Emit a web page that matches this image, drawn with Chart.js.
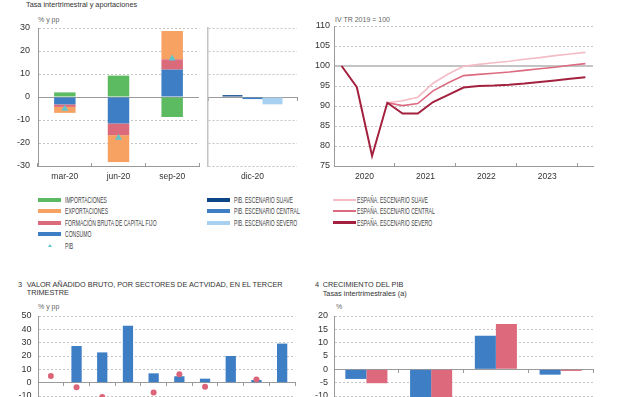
<!DOCTYPE html>
<html lang="es">
<head>
<meta charset="utf-8">
<title>PIB - escenarios</title>
<script src="https://cdn.jsdelivr.net/npm/chart.js@4.4.1/dist/chart.umd.min.js"></script>
<style>
    html, body { margin: 0; padding: 0; background: #fff; }
    body { position: relative; width: 643px; height: 397px; overflow: hidden; font-family: "Liberation Sans", Arial, sans-serif; color: #333; }
    canvas { position: absolute; }
    .t { position: absolute; white-space: nowrap; line-height: 1; }
    .title { font-size: 7.3px; color: #333; }
    .unit { font-size: 7px; color: #666; }
    .sw { position: absolute; }
    .tri { position: absolute; width: 0; height: 0; border-left: 2px solid transparent; border-right: 2px solid transparent; border-bottom: 3.5px solid #5ec6cc; }
    .lt { position: absolute; white-space: nowrap; font-size: 8.3px; line-height: 1; color: #444; transform: scaleX(0.61); transform-origin: 0 50%; }
</style>
</head>
<body>

<div class="t title" style="left:26px;top:1px">Tasa intertrimestral y aportaciones</div>
<div class="t unit" style="left:38px;top:15.5px">% y pp</div>
<div class="t unit" style="left:335px;top:15.5px">IV TR 2019 = 100</div>

<div class="t title" style="left:18px;top:280.5px">3</div>
<div class="t title" style="left:26.7px;top:280.5px">VALOR AÑADIDO BRUTO, POR SECTORES DE ACTVIDAD, EN EL TERCER</div>
<div class="t title" style="left:26.7px;top:289px">TRIMESTRE</div>
<div class="t unit" style="left:38px;top:303px">% y pp</div>

<div class="t title" style="left:315px;top:280.5px">4</div>
<div class="t title" style="left:322.7px;top:280.5px">CRECIMIENTO DEL PIB</div>
<div class="t title" style="left:322.7px;top:289.5px">Tasas intertrimestrales (a)</div>
<div class="t unit" style="left:336px;top:303px">%</div>

<div id="legend"></div>

<canvas id="c1a" width="205" height="190" style="left:0;top:0"></canvas>
<canvas id="c1b" width="105" height="190" style="left:200px;top:0"></canvas>
<canvas id="c2" width="343" height="190" style="left:300px;top:0"></canvas>
<canvas id="c3" width="300" height="150" style="left:0;top:300px"></canvas>
<canvas id="c4" width="343" height="150" style="left:300px;top:300px"></canvas>

<script>
/* ---------- data ---------- */

// 1 - aportaciones al crecimiento intertrimestral
const trimestres1 = ['mar-20', 'jun-20', 'sep-20'];
const consumo = [-3.2, -11.5, 11.9];
const fbcf = [-1.1, -5.1, 4.5];
const exportaciones = [-2.6, -11.7, 12.3];
const importaciones = [2.0, 9.3, -8.7];
const pib = [-5.1, -17.7, 16.7];

// 1b - PIB dic-20 por escenario
const trimestre1b = ['dic-20'];
const pibSuave = [0.8];
const pibCentral = [-0.9];
const pibSevero = [-3.2];

// 2 - nivel del PIB (IV TR 2019 = 100)
const trimestres2 = [
    'IV TR 2019', 'I TR 2020', 'II TR 2020', 'III TR 2020', 'IV TR 2020',
    'I TR 2021', 'II TR 2021', 'III TR 2021', 'IV TR 2021',
    'I TR 2022', 'II TR 2022', 'III TR 2022', 'IV TR 2022',
    'I TR 2023', 'II TR 2023', 'III TR 2023', 'IV TR 2023'
];
const anios2 = ['2020', '2021', '2022', '2023'];
const espSevero = [100, 94.7, 77.5, 90.8, 88.1, 88.1, 91.0, 92.8, 94.6, 95.0, 95.1, 95.3, 95.6, 96.0, 96.4, 96.8, 97.2];
const espCentral = [null, null, null, 90.8, 90.1, 90.6, 93.8, 95.8, 97.6, 97.9, 98.2, 98.5, 98.9, 99.3, 99.7, 100.2, 100.6];
const espSuave = [null, null, null, 90.8, 91.3, 92.2, 95.7, 98.0, 99.9, 100.4, 100.8, 101.2, 101.7, 102.1, 102.6, 103.0, 103.4];

// 3 - VAB por sectores, tercer trimestre
const sectores = ['S1', 'S2', 'S3', 'S4', 'S5', 'S6', 'S7', 'S8', 'S9', 'S10'];
const vabBarras = [0, 27.5, 22.7, 42.7, 7.0, 4.8, 3.0, 20.0, 2.0, 29.3];
const vabPuntos = [5.0, -3.5, -10.7, -15, -7.3, 6.3, -3.0, -13, 2.3, -18];

// 4 - crecimiento del PIB
const trimestres4 = ['I TR 2020', 'II TR 2020', 'III TR 2020', 'IV TR 2020'];
const crecAzul = [-3.6, -11.8, 12.6, -2.0];
const crecRojo = [-5.2, -17.8, 17.0, -0.6];

/* ---------- style ---------- */

const COL = {
    imp: '#5cbb61', exp: '#f7a263', fbcf: '#db6a7b', consumo: '#3e7ec5', pib: '#5ec6cc',
    suave: '#0c4688', central: '#3e7ec5', severo: '#a8d1f1',
    espSuave: '#f3bcc6', espCentral: '#dc6a80', espSevero: '#a3213f'
};
const GRID = '#c4c4c4', AXIS = '#9a9a9a';

Chart.defaults.font.family = '"Liberation Sans", Arial, sans-serif';
Chart.defaults.color = '#333';
Chart.defaults.animation = false;
Chart.defaults.events = [];
Chart.defaults.plugins.legend.display = false;
Chart.defaults.plugins.tooltip.enabled = false;

const dashedExcept = v => c => (c.type === 'tick' && c.tick.value !== v) ? [2, 2] : [];
const fixW = w => s => { s.width = w; };
const fixH = h => s => { s.height = h; };
const zeroAxis = tl => ({
    position: { y: 0 }, offset: true,
    grid: { offset: true, drawOnChartArea: false, tickLength: tl, color: AXIS },
    border: { color: AXIS }, ticks: { display: false }
});

/* ---------- legend ---------- */

const legendCols = [
    { sx: 37.5, tx: 64.5, items: [
        { label: 'IMPORTACIONES', color: COL.imp, h: 4 },
        { label: 'EXPORTACIONES', color: COL.exp, h: 4 },
        { label: 'FORMACIÓN BRUTA DE CAPITAL FIJO', color: COL.fbcf, h: 4 },
        { label: 'CONSUMO', color: COL.consumo, h: 4 },
        { label: 'PIB', color: COL.pib, tri: true }
    ] },
    { sx: 207, tx: 234, items: [
        { label: 'PIB. ESCENARIO SUAVE', color: COL.suave, h: 4 },
        { label: 'PIB. ESCENARIO CENTRAL', color: COL.central, h: 4 },
        { label: 'PIB. ESCENARIO SEVERO', color: COL.severo, h: 4 }
    ] },
    { sx: 333, tx: 357, items: [
        { label: 'ESPAÑA. ESCENARIO SUAVE', color: COL.espSuave, h: 2 },
        { label: 'ESPAÑA. ESCENARIO CENTRAL', color: COL.espCentral, h: 2 },
        { label: 'ESPAÑA. ESCENARIO SEVERO', color: COL.espSevero, h: 2.5 }
    ] }
];
const legendRows = [199.5, 211, 222.5, 234, 245.7];

let lg = '';
legendCols.forEach(col => {
    col.items.forEach((it, r) => {
        const y = legendRows[r];
        if (it.tri) {
            lg += `<div class="tri" style="left:${col.sx + 10}px;top:${y - 2}px"></div>`;
        } else {
            lg += `<div class="sw" style="left:${col.sx}px;top:${y - it.h / 2}px;width:23px;height:${it.h}px;background:${it.color}"></div>`;
        }
        lg += `<div class="lt" style="left:${col.tx}px;top:${y - 4}px">${it.label}</div>`;
    });
});
document.getElementById('legend').innerHTML = lg;

/* ---------- 1: aportaciones ---------- */

new Chart(document.getElementById('c1a'), {
    type: 'bar',
    data: {
        labels: trimestres1,
        datasets: [
            { type: 'line', label: 'PIB', data: pib, stack: 'pib', showLine: false, pointStyle: 'triangle',
              pointRadius: 4, pointBackgroundColor: COL.pib, pointBorderColor: COL.pib, pointBorderWidth: 0 },
            { label: 'Consumo', data: consumo, backgroundColor: COL.consumo, stack: 'a' },
            { label: 'FBCF', data: fbcf, backgroundColor: COL.fbcf, stack: 'a' },
            { label: 'Exportaciones', data: exportaciones, backgroundColor: COL.exp, stack: 'a' },
            { label: 'Importaciones', data: importaciones, backgroundColor: COL.imp, stack: 'a' }
        ]
    },
    options: {
        responsive: false,
        layout: { padding: { top: 28, right: 6 } },
        datasets: { bar: { categoryPercentage: 0.4, barPercentage: 1 } },
        scales: {
            x: { stacked: true, offset: true,
                 grid: { offset: true, drawOnChartArea: false, tickLength: -3, color: AXIS },
                 border: { color: AXIS }, ticks: { padding: 9, font: { size: 8.5 } }, afterFit: fixH(24) },
            y: { stacked: true, min: -30, max: 30,
                 ticks: { stepSize: 10, autoSkip: false, padding: 8, font: { size: 9 } },
                 grid: { drawTicks: false, color: c => (c.tick && c.tick.value === 0) ? AXIS : GRID },
                 border: { color: AXIS, dash: dashedExcept(0) }, afterFit: fixW(38) }
        }
    }
});

new Chart(document.getElementById('c1b'), {
    type: 'bar',
    data: {
        labels: trimestre1b,
        datasets: [
            { label: 'PIB. Escenario suave', data: pibSuave, backgroundColor: COL.suave },
            { label: 'PIB. Escenario central', data: pibCentral, backgroundColor: COL.central },
            { label: 'PIB. Escenario severo', data: pibSevero, backgroundColor: COL.severo }
        ]
    },
    options: {
        responsive: false,
        layout: { padding: { top: 28, right: 8 } },
        datasets: { bar: { categoryPercentage: 0.674, barPercentage: 1 } },
        scales: {
            x: { offset: true, grid: { display: false, drawTicks: false }, border: { display: false },
                 ticks: { padding: 6, font: { size: 8.5 } }, afterFit: fixH(24) },
            x0: zeroAxis(3),
            y: { min: -30, max: 30, ticks: { display: false, stepSize: 10, autoSkip: false },
                 grid: { drawTicks: false, color: GRID },
                 border: { color: '#c4c4c4', width: 1.5, dash: dashedExcept(null) }, afterFit: fixW(8) }
        }
    }
});

/* ---------- 2: nivel del PIB ---------- */

const centrosAnio = anios2.map((a, j) => 1.5 + 4 * j);
const limitesAnio = anios2.map((a, j) => 3.5 + 4 * j);
const serie = arr => arr.map((v, i) => ({ x: i, y: v }));

new Chart(document.getElementById('c2'), {
    type: 'line',
    data: {
        datasets: [
            { label: 'España. Escenario severo', data: serie(espSevero), borderColor: COL.espSevero, borderWidth: 2 },
            { label: 'España. Escenario central', data: serie(espCentral), borderColor: COL.espCentral, borderWidth: 1.6 },
            { label: 'España. Escenario suave', data: serie(espSuave), borderColor: COL.espSuave, borderWidth: 1.6 }
        ]
    },
    options: {
        responsive: false,
        layout: { padding: { top: 26, right: 50 } },
        elements: { point: { radius: 0 }, line: { tension: 0 } },
        scales: {
            x: { type: 'linear', min: -0.5, max: trimestres2.length - 0.5,
                 afterBuildTicks: s => { s.ticks = centrosAnio.concat(limitesAnio).sort((a, b) => a - b).map(v => ({ value: v })); },
                 ticks: { autoSkip: false, maxRotation: 0, padding: 9, font: { size: 8.5 },
                          callback: v => { const j = centrosAnio.indexOf(v); return j >= 0 ? anios2[j] : ''; } },
                 grid: { drawOnChartArea: false, tickLength: -3,
                         tickColor: c => limitesAnio.includes(c.tick.value) ? AXIS : 'rgba(0,0,0,0)' },
                 border: { color: AXIS }, afterFit: fixH(24) },
            y: { min: 75, max: 110,
                 ticks: { stepSize: 5, autoSkip: false, padding: 4, font: { size: 9 } },
                 grid: { drawTicks: false,
                         color: c => (c.tick && c.tick.value === 100) ? '#c4c4c4' : GRID,
                         lineWidth: c => (c.tick && c.tick.value === 100) ? 2 : 1 },
                 border: { color: AXIS, dash: dashedExcept(100) }, afterFit: fixW(34) }
        }
    }
});

/* ---------- 3: VAB por sectores ---------- */

new Chart(document.getElementById('c3'), {
    type: 'bar',
    data: {
        labels: sectores,
        datasets: [
            { type: 'line', label: 'Puntos', data: vabPuntos, showLine: false, pointRadius: 3,
              pointBackgroundColor: '#dc6478', pointBorderWidth: 0 },
            { label: 'Barras', data: vabBarras, backgroundColor: COL.consumo, categoryPercentage: 0.4, barPercentage: 1 }
        ]
    },
    options: {
        responsive: false,
        layout: { padding: { top: 16, right: 5, bottom: 14 } },
        scales: {
            x: { display: false, offset: true },
            x0: zeroAxis(3),
            y: { min: -40, max: 50,
                 ticks: { stepSize: 10, autoSkip: false, padding: 6.5, font: { size: 9 } },
                 grid: { drawTicks: false, color: GRID },
                 border: { color: AXIS, dash: dashedExcept(null) }, afterFit: fixW(38) }
        }
    }
});

/* ---------- 4: crecimiento del PIB ---------- */

new Chart(document.getElementById('c4'), {
    type: 'bar',
    data: {
        labels: trimestres4,
        datasets: [
            { label: 'Azul', data: crecAzul, backgroundColor: COL.consumo },
            { label: 'Rojo', data: crecRojo, backgroundColor: '#dc6a7c' }
        ]
    },
    options: {
        responsive: false,
        layout: { padding: { top: 16, right: 50, bottom: 14 } },
        datasets: { bar: { categoryPercentage: 0.65, barPercentage: 1 } },
        scales: {
            x: { display: false, offset: true },
            x0: zeroAxis(3),
            y: { min: -25, max: 20,
                 ticks: { stepSize: 5, autoSkip: false, padding: 6, font: { size: 9 } },
                 grid: { drawTicks: false, color: GRID },
                 border: { color: AXIS, dash: dashedExcept(null) }, afterFit: fixW(34) }
        }
    }
});
</script>
</body>
</html>
